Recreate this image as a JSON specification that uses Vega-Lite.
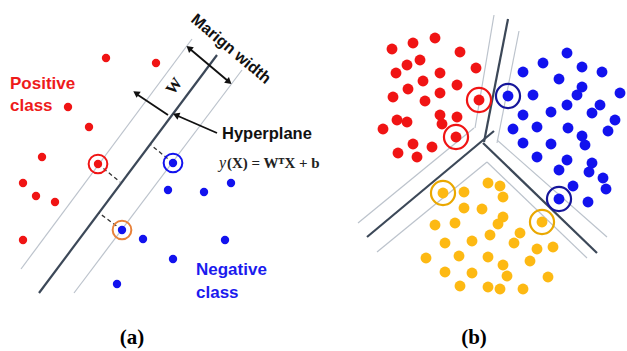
{
  "$schema": "https://vega.github.io/schema/vega-lite/v6.json",
  "width": 627,
  "height": 351,
  "autosize": {"type": "fit", "contains": "padding"},
  "padding": 0,
  "background": "white",
  "config": {"view": {"stroke": null}},
  "datasets": {
    "pts": [
      {"panel": "a", "cls": "red", "x": 106, "y": 58},
      {"panel": "a", "cls": "red", "x": 156, "y": 63},
      {"panel": "a", "cls": "red", "x": 68, "y": 107},
      {"panel": "a", "cls": "red", "x": 89, "y": 127},
      {"panel": "a", "cls": "red", "x": 42, "y": 157},
      {"panel": "a", "cls": "red", "x": 98, "y": 164},
      {"panel": "a", "cls": "red", "x": 23, "y": 183},
      {"panel": "a", "cls": "red", "x": 36, "y": 196},
      {"panel": "a", "cls": "red", "x": 55, "y": 202},
      {"panel": "a", "cls": "red", "x": 23, "y": 240},
      {"panel": "a", "cls": "blue", "x": 173, "y": 163},
      {"panel": "a", "cls": "blue", "x": 168, "y": 190},
      {"panel": "a", "cls": "blue", "x": 204, "y": 192},
      {"panel": "a", "cls": "blue", "x": 231, "y": 183},
      {"panel": "a", "cls": "blue", "x": 122, "y": 230},
      {"panel": "a", "cls": "blue", "x": 143, "y": 239},
      {"panel": "a", "cls": "blue", "x": 225, "y": 240},
      {"panel": "a", "cls": "blue", "x": 173, "y": 259},
      {"panel": "a", "cls": "blue", "x": 117, "y": 284},
      {"panel": "b", "cls": "red", "x": 392, "y": 49},
      {"panel": "b", "cls": "red", "x": 413, "y": 43},
      {"panel": "b", "cls": "red", "x": 435, "y": 38},
      {"panel": "b", "cls": "red", "x": 460, "y": 52},
      {"panel": "b", "cls": "red", "x": 407, "y": 65},
      {"panel": "b", "cls": "red", "x": 420, "y": 60},
      {"panel": "b", "cls": "red", "x": 396, "y": 73},
      {"panel": "b", "cls": "red", "x": 440, "y": 73},
      {"panel": "b", "cls": "red", "x": 476, "y": 68},
      {"panel": "b", "cls": "red", "x": 423, "y": 81},
      {"panel": "b", "cls": "red", "x": 408, "y": 89},
      {"panel": "b", "cls": "red", "x": 457, "y": 85},
      {"panel": "b", "cls": "red", "x": 393, "y": 97},
      {"panel": "b", "cls": "red", "x": 425, "y": 101},
      {"panel": "b", "cls": "red", "x": 440, "y": 93},
      {"panel": "b", "cls": "red", "x": 479, "y": 100},
      {"panel": "b", "cls": "red", "x": 397, "y": 120},
      {"panel": "b", "cls": "red", "x": 407, "y": 122},
      {"panel": "b", "cls": "red", "x": 383, "y": 129},
      {"panel": "b", "cls": "red", "x": 440, "y": 115},
      {"panel": "b", "cls": "red", "x": 442, "y": 124},
      {"panel": "b", "cls": "red", "x": 457, "y": 117},
      {"panel": "b", "cls": "red", "x": 456, "y": 137},
      {"panel": "b", "cls": "red", "x": 413, "y": 144},
      {"panel": "b", "cls": "red", "x": 432, "y": 147},
      {"panel": "b", "cls": "red", "x": 398, "y": 153},
      {"panel": "b", "cls": "red", "x": 417, "y": 157},
      {"panel": "b", "cls": "blue", "x": 567, "y": 53},
      {"panel": "b", "cls": "blue", "x": 543, "y": 63},
      {"panel": "b", "cls": "blue", "x": 523, "y": 72},
      {"panel": "b", "cls": "blue", "x": 582, "y": 67},
      {"panel": "b", "cls": "blue", "x": 602, "y": 72},
      {"panel": "b", "cls": "blue", "x": 559, "y": 79},
      {"panel": "b", "cls": "blue", "x": 582, "y": 87},
      {"panel": "b", "cls": "blue", "x": 577, "y": 95},
      {"panel": "b", "cls": "blue", "x": 620, "y": 93},
      {"panel": "b", "cls": "blue", "x": 508, "y": 96},
      {"panel": "b", "cls": "blue", "x": 533, "y": 95},
      {"panel": "b", "cls": "blue", "x": 567, "y": 105},
      {"panel": "b", "cls": "blue", "x": 600, "y": 105},
      {"panel": "b", "cls": "blue", "x": 592, "y": 113},
      {"panel": "b", "cls": "blue", "x": 523, "y": 115},
      {"panel": "b", "cls": "blue", "x": 551, "y": 112},
      {"panel": "b", "cls": "blue", "x": 615, "y": 120},
      {"panel": "b", "cls": "blue", "x": 513, "y": 129},
      {"panel": "b", "cls": "blue", "x": 537, "y": 127},
      {"panel": "b", "cls": "blue", "x": 568, "y": 128},
      {"panel": "b", "cls": "blue", "x": 608, "y": 131},
      {"panel": "b", "cls": "blue", "x": 582, "y": 136},
      {"panel": "b", "cls": "blue", "x": 523, "y": 143},
      {"panel": "b", "cls": "blue", "x": 551, "y": 144},
      {"panel": "b", "cls": "blue", "x": 585, "y": 145},
      {"panel": "b", "cls": "blue", "x": 537, "y": 157},
      {"panel": "b", "cls": "blue", "x": 567, "y": 160},
      {"panel": "b", "cls": "blue", "x": 592, "y": 163},
      {"panel": "b", "cls": "blue", "x": 559, "y": 170},
      {"panel": "b", "cls": "blue", "x": 589, "y": 172},
      {"panel": "b", "cls": "blue", "x": 603, "y": 178},
      {"panel": "b", "cls": "blue", "x": 573, "y": 186},
      {"panel": "b", "cls": "blue", "x": 606, "y": 189},
      {"panel": "b", "cls": "blue", "x": 559, "y": 199},
      {"panel": "b", "cls": "blue", "x": 588, "y": 202},
      {"panel": "b", "cls": "amber", "x": 488, "y": 183},
      {"panel": "b", "cls": "amber", "x": 500, "y": 186},
      {"panel": "b", "cls": "amber", "x": 443, "y": 193},
      {"panel": "b", "cls": "amber", "x": 464, "y": 192},
      {"panel": "b", "cls": "amber", "x": 503, "y": 197},
      {"panel": "b", "cls": "amber", "x": 464, "y": 208},
      {"panel": "b", "cls": "amber", "x": 482, "y": 209},
      {"panel": "b", "cls": "amber", "x": 503, "y": 217},
      {"panel": "b", "cls": "amber", "x": 435, "y": 225},
      {"panel": "b", "cls": "amber", "x": 455, "y": 223},
      {"panel": "b", "cls": "amber", "x": 498, "y": 224},
      {"panel": "b", "cls": "amber", "x": 542, "y": 222},
      {"panel": "b", "cls": "amber", "x": 520, "y": 233},
      {"panel": "b", "cls": "amber", "x": 490, "y": 235},
      {"panel": "b", "cls": "amber", "x": 445, "y": 243},
      {"panel": "b", "cls": "amber", "x": 472, "y": 241},
      {"panel": "b", "cls": "amber", "x": 514, "y": 243},
      {"panel": "b", "cls": "amber", "x": 537, "y": 249},
      {"panel": "b", "cls": "amber", "x": 553, "y": 247},
      {"panel": "b", "cls": "amber", "x": 426, "y": 258},
      {"panel": "b", "cls": "amber", "x": 459, "y": 256},
      {"panel": "b", "cls": "amber", "x": 488, "y": 257},
      {"panel": "b", "cls": "amber", "x": 530, "y": 261},
      {"panel": "b", "cls": "amber", "x": 503, "y": 265},
      {"panel": "b", "cls": "amber", "x": 445, "y": 272},
      {"panel": "b", "cls": "amber", "x": 472, "y": 273},
      {"panel": "b", "cls": "amber", "x": 507, "y": 276},
      {"panel": "b", "cls": "amber", "x": 548, "y": 277},
      {"panel": "b", "cls": "amber", "x": 460, "y": 286},
      {"panel": "b", "cls": "amber", "x": 488, "y": 287},
      {"panel": "b", "cls": "amber", "x": 500, "y": 289},
      {"panel": "b", "cls": "amber", "x": 523, "y": 289}
    ],
    "rings": [
      {"panel": "a", "cls": "red", "x": 98, "y": 164},
      {"panel": "a", "cls": "blue", "x": 173, "y": 163},
      {"panel": "a", "cls": "orange", "x": 122, "y": 230},
      {"panel": "b", "cls": "red", "x": 479, "y": 100},
      {"panel": "b", "cls": "red", "x": 456, "y": 137},
      {"panel": "b", "cls": "navy", "x": 508, "y": 96},
      {"panel": "b", "cls": "navy", "x": 559, "y": 199},
      {"panel": "b", "cls": "amberdark", "x": 443, "y": 193},
      {"panel": "b", "cls": "amberdark", "x": 542, "y": 222}
    ],
    "segs": [
      {"kind": "gray", "x": 21, "y": 269, "x2": 192, "y2": 39},
      {"kind": "gray", "x": 74, "y": 293, "x2": 242, "y2": 70},
      {"kind": "gray", "x": 494, "y": 15, "x2": 475, "y2": 128},
      {"kind": "gray", "x": 519, "y": 31, "x2": 497, "y2": 143},
      {"kind": "gray", "x": 358, "y": 223, "x2": 474, "y2": 128},
      {"kind": "gray", "x": 377, "y": 252, "x2": 487, "y2": 162},
      {"kind": "gray", "x": 497, "y": 140, "x2": 607, "y2": 237},
      {"kind": "gray", "x": 487, "y": 162, "x2": 587, "y2": 258},
      {"kind": "dark", "x": 39, "y": 293, "x2": 217, "y2": 55},
      {"kind": "dark", "x": 508, "y": 19, "x2": 484, "y2": 142},
      {"kind": "dark", "x": 494, "y": 131, "x2": 367, "y2": 237},
      {"kind": "dark", "x": 483, "y": 143, "x2": 597, "y2": 253},
      {"kind": "dash", "x": 98, "y": 164, "x2": 120, "y2": 182},
      {"kind": "dash", "x": 173, "y": 163, "x2": 151, "y2": 145},
      {"kind": "dash", "x": 122, "y": 230, "x2": 99, "y2": 213},
      {"kind": "arrow", "x": 168, "y": 115, "x2": 138, "y2": 95},
      {"kind": "arrow", "x": 217, "y": 133, "x2": 178, "y2": 116},
      {"kind": "arrow", "x": 190, "y": 49, "x2": 228, "y2": 81}
    ],
    "heads": [
      {"id": "w", "x": 136, "y": 93},
      {"id": "h", "x": 176, "y": 115},
      {"id": "m1", "x": 189, "y": 48},
      {"id": "m2", "x": 229, "y": 82}
    ],
    "labels": [
      {"style": "pos", "x": 10, "y": 84, "text": "Positive"},
      {"style": "pos", "x": 10, "y": 106, "text": "class"},
      {"style": "neg", "x": 196, "y": 270, "text": "Negative"},
      {"style": "neg", "x": 196, "y": 293, "text": "class"},
      {"style": "black", "x": 222, "y": 134, "text": "Hyperplane"},
      {"style": "eqi", "x": 219, "y": 163, "text": "y"},
      {"style": "eq", "x": 227, "y": 163, "text": "(X) = WᵀX + b"},
      {"style": "panel", "x": 132, "y": 338, "text": "(a)"},
      {"style": "panel", "x": 474, "y": 338, "text": "(b)"},
      {"style": "margin", "x": 231, "y": 49, "text": "Marign width"},
      {"style": "w", "x": 174, "y": 86, "text": "W"}
    ]
  },
  "encoding": {
    "x": {"field": "x", "type": "quantitative", "scale": {"domain": [0, 627], "nice": false, "zero": false}, "axis": null},
    "y": {"field": "y", "type": "quantitative", "scale": {"domain": [0, 351], "nice": false, "zero": false, "reverse": true}, "axis": null}
  },
  "layer": [
    {
      "data": {"name": "segs"},
      "transform": [{"filter": "datum.kind == 'gray'"}],
      "mark": {"type": "rule", "color": "#bcc3cc", "strokeWidth": 1.2},
      "encoding": {"x2": {"field": "x2"}, "y2": {"field": "y2"}}
    },
    {
      "data": {"name": "segs"},
      "transform": [{"filter": "datum.kind == 'dark'"}],
      "mark": {"type": "rule", "color": "#3c4858", "strokeWidth": 2.2},
      "encoding": {"x2": {"field": "x2"}, "y2": {"field": "y2"}}
    },
    {
      "data": {"name": "segs"},
      "transform": [{"filter": "datum.kind == 'dash'"}],
      "mark": {"type": "rule", "color": "#333333", "strokeWidth": 1.3, "strokeDash": [4, 3]},
      "encoding": {"x2": {"field": "x2"}, "y2": {"field": "y2"}}
    },
    {
      "data": {"name": "segs"},
      "transform": [{"filter": "datum.kind == 'arrow'"}],
      "mark": {"type": "rule", "color": "#111111", "strokeWidth": 1.8},
      "encoding": {"x2": {"field": "x2"}, "y2": {"field": "y2"}}
    },
    {
      "data": {"name": "heads"},
      "transform": [{"filter": "datum.id == 'w'"}],
      "mark": {"type": "point", "shape": "triangle-up", "filled": true, "color": "#111111", "size": 55, "angle": -56, "opacity": 1}
    },
    {
      "data": {"name": "heads"},
      "transform": [{"filter": "datum.id == 'h'"}],
      "mark": {"type": "point", "shape": "triangle-up", "filled": true, "color": "#111111", "size": 55, "angle": -67, "opacity": 1}
    },
    {
      "data": {"name": "heads"},
      "transform": [{"filter": "datum.id == 'm1'"}],
      "mark": {"type": "point", "shape": "triangle-up", "filled": true, "color": "#111111", "size": 55, "angle": -50, "opacity": 1}
    },
    {
      "data": {"name": "heads"},
      "transform": [{"filter": "datum.id == 'm2'"}],
      "mark": {"type": "point", "shape": "triangle-up", "filled": true, "color": "#111111", "size": 55, "angle": 130, "opacity": 1}
    },
    {
      "data": {"name": "pts"},
      "transform": [{"filter": "datum.panel == 'a'"}],
      "mark": {"type": "point", "shape": "circle", "filled": true, "size": 70, "opacity": 1},
      "encoding": {"color": {"field": "cls", "type": "nominal", "legend": null,
        "scale": {"domain": ["red", "blue", "amber", "orange", "navy", "amberdark"], "range": ["#f01414", "#1212ee", "#fdb913", "#e8823a", "#16169a", "#eaa800"]}}}
    },
    {
      "data": {"name": "pts"},
      "transform": [{"filter": "datum.panel == 'b'"}],
      "mark": {"type": "point", "shape": "circle", "filled": true, "size": 118, "opacity": 1},
      "encoding": {"color": {"field": "cls", "type": "nominal", "legend": null}}
    },
    {
      "data": {"name": "rings"},
      "transform": [{"filter": "datum.panel == 'a'"}],
      "mark": {"type": "point", "shape": "circle", "filled": false, "size": 350, "strokeWidth": 2, "opacity": 1},
      "encoding": {"color": {"field": "cls", "type": "nominal", "legend": null}}
    },
    {
      "data": {"name": "rings"},
      "transform": [{"filter": "datum.panel == 'b'"}],
      "mark": {"type": "point", "shape": "circle", "filled": false, "size": 580, "strokeWidth": 2.2, "opacity": 1},
      "encoding": {"color": {"field": "cls", "type": "nominal", "legend": null}}
    },
    {
      "data": {"name": "labels"},
      "transform": [{"filter": "datum.style == 'pos'"}],
      "mark": {"type": "text", "align": "left", "baseline": "middle", "font": "Liberation Sans", "fontWeight": "bold", "fontSize": 17, "color": "#ee1b1b"},
      "encoding": {"text": {"field": "text"}}
    },
    {
      "data": {"name": "labels"},
      "transform": [{"filter": "datum.style == 'neg'"}],
      "mark": {"type": "text", "align": "left", "baseline": "middle", "font": "Liberation Sans", "fontWeight": "bold", "fontSize": 17, "color": "#1b1bee"},
      "encoding": {"text": {"field": "text"}}
    },
    {
      "data": {"name": "labels"},
      "transform": [{"filter": "datum.style == 'black'"}],
      "mark": {"type": "text", "align": "left", "baseline": "middle", "font": "Liberation Sans", "fontWeight": "bold", "fontSize": 16.5, "color": "#111111"},
      "encoding": {"text": {"field": "text"}}
    },
    {
      "data": {"name": "labels"},
      "transform": [{"filter": "datum.style == 'eqi'"}],
      "mark": {"type": "text", "align": "left", "baseline": "middle", "font": "Liberation Serif", "fontStyle": "italic", "fontSize": 16, "color": "#222222"},
      "encoding": {"text": {"field": "text"}}
    },
    {
      "data": {"name": "labels"},
      "transform": [{"filter": "datum.style == 'eq'"}],
      "mark": {"type": "text", "align": "left", "baseline": "middle", "font": "Liberation Serif", "fontWeight": "bold", "fontSize": 15, "color": "#222222"},
      "encoding": {"text": {"field": "text"}}
    },
    {
      "data": {"name": "labels"},
      "transform": [{"filter": "datum.style == 'panel'"}],
      "mark": {"type": "text", "align": "center", "baseline": "middle", "font": "Liberation Serif", "fontWeight": "bold", "fontSize": 21, "color": "#000000"},
      "encoding": {"text": {"field": "text"}}
    },
    {
      "data": {"name": "labels"},
      "transform": [{"filter": "datum.style == 'margin'"}],
      "mark": {"type": "text", "align": "center", "baseline": "middle", "font": "Liberation Sans", "fontWeight": "bold", "fontSize": 16, "angle": 40, "color": "#111111"},
      "encoding": {"text": {"field": "text"}}
    },
    {
      "data": {"name": "labels"},
      "transform": [{"filter": "datum.style == 'w'"}],
      "mark": {"type": "text", "align": "center", "baseline": "middle", "font": "Liberation Serif", "fontWeight": "bold", "fontSize": 16, "angle": -53, "color": "#111111"},
      "encoding": {"text": {"field": "text"}}
    }
  ]
}
